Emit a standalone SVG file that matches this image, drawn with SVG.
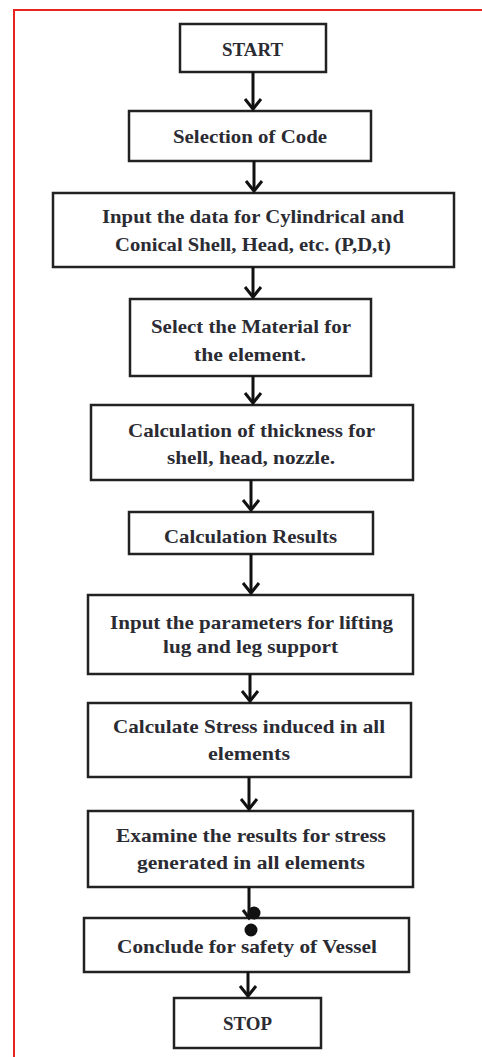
<svg xmlns="http://www.w3.org/2000/svg" width="482" height="1057" viewBox="0 0 482 1057">
<style>
.box{fill:#fff;stroke:#222;stroke-width:2.5}
.t{font-family:"Liberation Serif",serif;font-weight:bold;font-size:19px;fill:#2b2b33;text-anchor:middle}
.c{fill:none;stroke:#111;stroke-width:3}
</style>
<defs>
<marker id="ah" markerUnits="userSpaceOnUse" markerWidth="16" markerHeight="22" viewBox="-13 -11 16 22" refX="0" refY="0" orient="auto" overflow="visible">
<path d="M-10 -8 L0 0 L-10 8" fill="none" stroke="#111" stroke-width="3"/>
</marker>
<marker id="ahs" markerUnits="userSpaceOnUse" markerWidth="12" markerHeight="16" viewBox="-10 -8 12 16" refX="0" refY="0" orient="auto" overflow="visible">
<path d="M-8 -6 L0 0 L-8 6" fill="none" stroke="#111" stroke-width="3"/>
</marker>
</defs>
<rect x="0" y="0" width="482" height="1057" fill="#fff"/>
<path d="M14 1057 V10 H482" fill="none" stroke="#e8241f" stroke-width="2"/>
<g id="n1"><rect class="box" x="180" y="24" width="146" height="48"/><text class="t" x="252.5" y="56" textLength="61" lengthAdjust="spacingAndGlyphs">START</text></g>
<g id="n2"><rect class="box" x="129" y="111" width="242" height="50"/><text class="t" x="250" y="143" textLength="154" lengthAdjust="spacingAndGlyphs">Selection of Code</text></g>
<g id="n3"><rect class="box" x="53" y="193" width="401" height="74"/><text class="t" x="253" y="223" textLength="302" lengthAdjust="spacingAndGlyphs">Input the data for Cylindrical and</text><text class="t" x="253" y="251" textLength="276" lengthAdjust="spacingAndGlyphs">Conical Shell, Head, etc. (P,D,t)</text></g>
<g id="n4"><rect class="box" x="130" y="299" width="241" height="77"/><text class="t" x="251" y="333" textLength="200" lengthAdjust="spacingAndGlyphs">Select the Material for</text><text class="t" x="250" y="361" textLength="112" lengthAdjust="spacingAndGlyphs">the element.</text></g>
<g id="n5"><rect class="box" x="91" y="405" width="322" height="75"/><text class="t" x="251.5" y="437" textLength="247" lengthAdjust="spacingAndGlyphs">Calculation of thickness for</text><text class="t" x="251" y="464" textLength="168" lengthAdjust="spacingAndGlyphs">shell, head, nozzle.</text></g>
<g id="n6"><rect class="box" x="129" y="512" width="244" height="42"/><text class="t" x="250.5" y="543" textLength="173" lengthAdjust="spacingAndGlyphs">Calculation Results</text></g>
<g id="n7"><rect class="box" x="88" y="595" width="325" height="79"/><text class="t" x="251.5" y="629" textLength="283" lengthAdjust="spacingAndGlyphs">Input the parameters for lifting</text><text class="t" x="250.5" y="653" textLength="175" lengthAdjust="spacingAndGlyphs">lug and leg support</text></g>
<g id="n8"><rect class="box" x="88" y="703" width="323" height="74"/><text class="t" x="249" y="733" textLength="272" lengthAdjust="spacingAndGlyphs">Calculate Stress induced in all</text><text class="t" x="249" y="760" textLength="82" lengthAdjust="spacingAndGlyphs">elements</text></g>
<g id="n9"><rect class="box" x="88" y="811" width="325" height="76"/><text class="t" x="251" y="842" textLength="270" lengthAdjust="spacingAndGlyphs">Examine the results for stress</text><text class="t" x="251" y="869" textLength="228" lengthAdjust="spacingAndGlyphs">generated in all elements</text></g>
<g id="n10"><rect class="box" x="84" y="918" width="325" height="54"/><text class="t" x="247" y="953" textLength="260" lengthAdjust="spacingAndGlyphs">Conclude for safety of Vessel</text></g>
<g id="n11"><rect class="box" x="174" y="998" width="147" height="50"/><text class="t" x="247.5" y="1030" textLength="49" lengthAdjust="spacingAndGlyphs">STOP</text></g>
<g id="connectors">
<path class="c" d="M253 72 V109" marker-end="url(#ah)"/>
<path class="c" d="M254 161 V191" marker-end="url(#ah)"/>
<path class="c" d="M253 267 V297" marker-end="url(#ah)"/>
<path class="c" d="M253 376 V403" marker-end="url(#ah)"/>
<path class="c" d="M251 480 V510" marker-end="url(#ah)"/>
<path class="c" d="M251 554 V593" marker-end="url(#ah)"/>
<path class="c" d="M250 674 V701" marker-end="url(#ah)"/>
<path class="c" d="M249 777 V809" marker-end="url(#ah)"/>
<path class="c" d="M249 887 V918" marker-end="url(#ahs)"/>
<circle cx="254" cy="913" r="6.5" fill="#111"/>
<circle cx="251" cy="930" r="6.5" fill="#111"/>
<path class="c" d="M248 972 V996" marker-end="url(#ah)"/>
</g>
</svg>
